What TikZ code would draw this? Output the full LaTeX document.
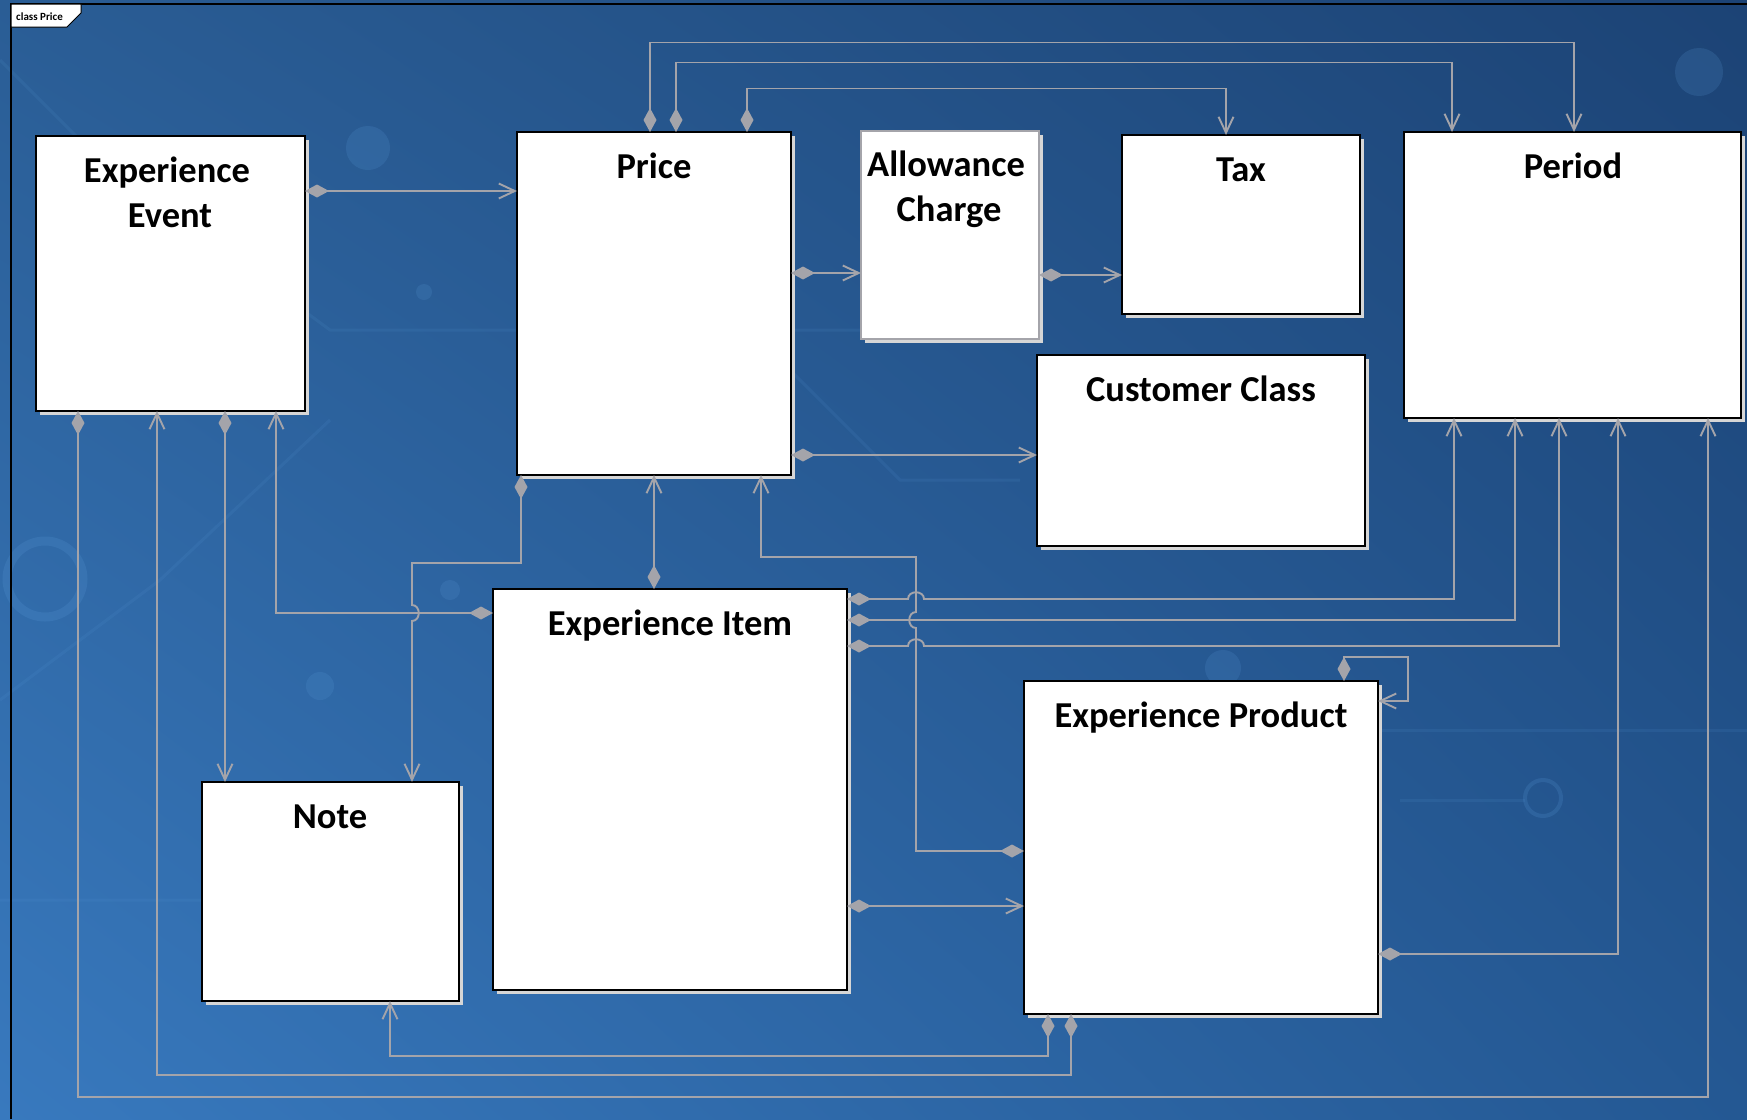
\documentclass[tikz,border=0pt]{standalone}
\usepackage{fontspec}
\setmainfont{Carlito}
\usetikzlibrary{arrows.meta,shadows,shadings}
\definecolor{conn}{HTML}{A4A4AA}
\definecolor{shadowgrey}{HTML}{D6D6D6}
\definecolor{bgUL}{HTML}{2A5D95}
\definecolor{bgUR}{HTML}{1C4375}
\definecolor{bgLL}{HTML}{3879BE}
\definecolor{bgLR}{HTML}{245893}
\definecolor{deco}{HTML}{5A9AD8}
\tikzset{
  box/.style={draw=black, line width=2.2pt, fill=white, inner sep=0pt, outer sep=0pt,
    anchor=north west, general shadow={fill=shadowgrey, shadow xshift=3.5pt, shadow yshift=-3.5pt}},
  greybox/.style={box, draw=conn},
  title/.style={font=\fontsize{36.5}{44}\selectfont\bfseries, anchor=base, inner sep=0pt},
  assoc/.style={draw=conn, line width=1.9pt, line join=miter,
    {Diamond[length=24pt,width=13pt]}-{Straight Barb[length=16pt,width=15pt]}},
  decoline/.style={draw=deco, opacity=0.12, line width=3pt},
  decodot/.style={fill=deco, opacity=0.18},
}
\begin{document}
\begin{tikzpicture}[x=1pt,y=-1pt]
\useasboundingbox (0,0) rectangle (1747,1119);
% background
\shade[upper left=bgUL, upper right=bgUR, lower left=bgLL, lower right=bgLR] (0,0) rectangle (1747,1119);
% faint circuit decoration
\draw[decoline] (0,60) -- (100,160) -- (330,330) -- (1030,330);
\draw[decoline] (0,700) -- (160,580) -- (330,420);
\draw[draw=deco, opacity=0.2, line width=9pt] (45,579) circle[radius=38];
\fill[decodot] (368,148) circle[radius=22];
\fill[decodot] (424,292) circle[radius=8];
\fill[decodot] (1699,72) circle[radius=24];
\draw[draw=deco, opacity=0.2, line width=4pt] (1543,798) circle[radius=18];
\fill[decodot] (320,686) circle[radius=14];
\fill[decodot] (450,590) circle[radius=10];
\fill[decodot] (1223,668) circle[radius=18];
\draw[decoline] (0,900) -- (300,900) -- (420,820);
\draw[decoline] (1380,730) -- (1747,730);
\draw[decoline] (750,330) -- (900,480) -- (1020,480);
\draw[decoline] (1400,800) -- (1525,800);
% frame
\draw[black, line width=1.2pt] (11,1119) -- (11,4) -- (1747,4);
\filldraw[fill=white, draw=black, line width=1pt] (11,4) -- (81,4) -- (81,13) -- (67,27) -- (11,27) -- cycle;
\node[font=\fontsize{11}{13}\selectfont\bfseries, anchor=base west, inner sep=0pt] (frametitle) at (16,20.5) {class Price};

% boxes
\node[box, minimum width=269pt, minimum height=275pt] (ee) at (36,136) {};
\node[box, minimum width=274pt, minimum height=343pt] (price) at (517,132) {};
\node[greybox, minimum width=178pt, minimum height=208pt] (ac) at (861,131) {};
\node[box, minimum width=238pt, minimum height=179pt] (tax) at (1122,135) {};
\node[box, minimum width=337pt, minimum height=286pt] (period) at (1404,132) {};
\node[box, minimum width=328pt, minimum height=191pt] (cc) at (1037,355) {};
\node[box, minimum width=354pt, minimum height=401pt] (ei) at (493,589) {};
\node[box, minimum width=354pt, minimum height=333pt] (ep) at (1024,681) {};
\node[box, minimum width=257pt, minimum height=219pt] (note) at (202,782) {};

% titles
\node[title] (ee-t1) at (167,182) {Experience};
\node[title] (ee-t2) at (170,227) {Event};
\node[title] (price-t) at (654,178) {Price};
\node[title] (ac-t1) at (946,176) {Allowance};
\node[title] (ac-t2) at (949,221) {Charge};
\node[title] (tax-t) at (1241,181) {Tax};
\node[title] (period-t) at (1573,178) {Period};
\node[title] (cc-t) at (1201,401) {Customer Class};
\node[title] (ei-t) at (670,635) {Experience Item};
\node[title] (ep-t) at (1201,727) {Experience Product};
\node[title] (note-t) at (330,828) {Note};

% connectors
\draw[assoc] (ee.east |- 0,191) -- (price.west |- 0,191);
\draw[assoc] (price.east |- 0,273) -- (ac.west |- 0,273);
\draw[assoc] (ac.east |- 0,275) -- (tax.west |- 0,275);
\draw[assoc] (price.east |- 0,455) -- (cc.west |- 0,455);
\draw[assoc] (price.north -| 650,0) -- (650,42.5) -- (1574,42.5) -- (period.north -| 1574,0);
\draw[assoc] (price.north -| 676,0) -- (676,62.5) -- (1452,62.5) -- (period.north -| 1452,0);
\draw[assoc] (price.north -| 747,0) -- (747,88.5) -- (1226,88.5) -- (tax.north -| 1226,0);
\draw[assoc] (ei.north -| 654,0) -- (price.south -| 654,0);
\draw[assoc] (price.south -| 521,0) -- (521,563) -- (412,563) -- (412,605)
  .. controls (421,605) and (421,621) .. (412,621) -- (note.north -| 412,0);
\draw[assoc] (ei.west |- 0,613) -- (276,613) -- (ee.south -| 276,0);
\draw[assoc] (ee.south -| 225,0) -- (note.north -| 225,0);
\draw[assoc] (ee.south -| 78,0) -- (78,1097) -- (1708,1097) -- (period.south -| 1708,0);
\draw[assoc] (ep.south -| 1071,0) -- (1071,1075) -- (157,1075) -- (ee.south -| 157,0);
\draw[assoc] (ep.south -| 1048,0) -- (1048,1056) -- (390,1056) -- (note.south -| 390,0);
\draw[assoc] (ei.east |- 0,599) -- (908,599) .. controls (908,590) and (924,590) .. (924,599)
  -- (1454,599) -- (period.south -| 1454,0);
\draw[assoc] (ei.east |- 0,620) -- (1515,620) -- (period.south -| 1515,0);
\draw[assoc] (ei.east |- 0,646) -- (908,646) .. controls (908,637) and (924,637) .. (924,646)
  -- (1559,646) -- (period.south -| 1559,0);
\draw[assoc] (ep.west |- 0,851) -- (916,851) -- (916,628) .. controls (907,628) and (907,612) .. (916,612)
  -- (916,557) -- (761,557) -- (price.south -| 761,0);
\draw[assoc] (ei.east |- 0,906) -- (ep.west |- 0,906);
\draw[assoc] (ep.east |- 0,954) -- (1618,954) -- (period.south -| 1618,0);
\draw[assoc] (ep.north -| 1344,0) -- (1344,657) -- (1408,657) -- (1408,701) -- (ep.east |- 0,701);
\end{tikzpicture}
\end{document}
